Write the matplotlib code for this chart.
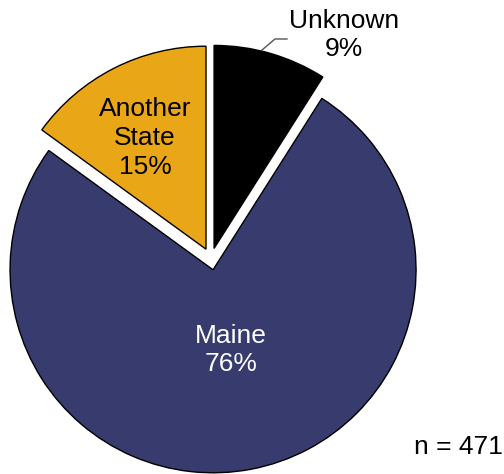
import matplotlib.pyplot as plt

plt.rcParams["font.family"] = ["Liberation Sans", "DejaVu Sans"]

# Share of respondents by state
labels = ["Unknown", "Maine", "Another\nState"]
shares = [9, 76, 15]
colors = ["#000000", "#373b6e", "#e9a616"]
n_total = 471

W, H = 504, 474
fig = plt.figure(figsize=(W / 100, H / 100), dpi=100)
ax = fig.add_axes([0, 0, 1, 1])

# explode is in data units here (pixels), not a fraction of the radius
wedges, _ = ax.pie(
    shares,
    colors=colors,
    startangle=90,
    counterclock=False,
    explode=[11, 11, 11],
    center=(211, H - 259),
    radius=203,
    wedgeprops=dict(edgecolor="black", linewidth=1.0),
    frame=False,
)
ax.set_xlim(0, W)
ax.set_ylim(0, H)
ax.set_aspect("equal")
ax.axis("off")

fs = 19
ax.text(231, H - 350, f"{labels[1]}\n{shares[1]}%", color="white",
        ha="center", va="center", fontsize=fs, linespacing=1.25)
ax.text(145, H - 138, f"{labels[2]}\n{shares[2]}%", color="black",
        ha="center", va="center", fontsize=fs, linespacing=1.25)
ax.text(344, H - 35, f"{labels[0]}\n{shares[0]}%", color="black",
        ha="center", va="center", fontsize=fs, linespacing=1.25)

# leader line for the outside label
ax.plot([262, 275, 287], [H - 50, H - 39, H - 39], color="#555555", lw=1.0)

ax.text(458, H - 447, f"n = {n_total}", ha="center", va="center", fontsize=fs)

fig.savefig("out.png", dpi=100)
